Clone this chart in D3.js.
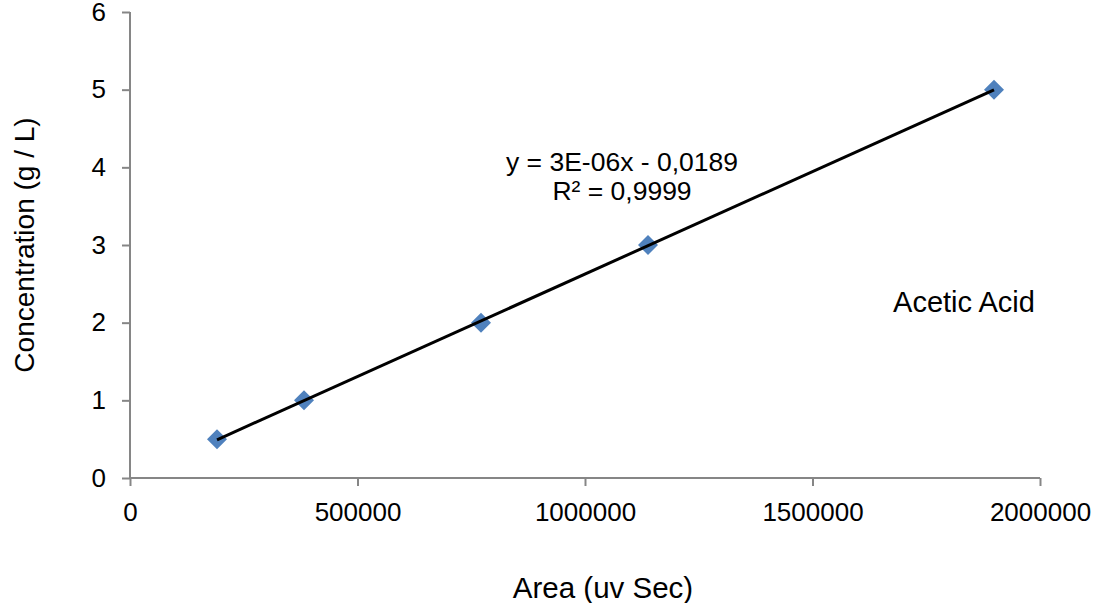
<!DOCTYPE html>
<html>
<head>
<meta charset="utf-8">
<script src="https://cdn.jsdelivr.net/npm/d3@7"></script>
<style>
  body { margin: 0; background: #fff; }
  text { font-family: "Liberation Sans", Arial, sans-serif; fill: #000; }
</style>
</head>
<body>
<div id="chart"></div>
<script>
// calibration points
const areas = [191200, 382400, 771400, 1138500, 1898900];
const concentrations = [0.5, 1, 2, 3, 5];
const xTicks = [0, 500000, 1000000, 1500000, 2000000];
const yTicks = [0, 1, 2, 3, 4, 5, 6];
const equationLines = ["y = 3E-06x - 0,0189", "R\u00b2 = 0,9999"];
const seriesName = "Acetic Acid";

const width = 1094, height = 603;
const margin = { left: 130, right: 54, top: 12, bottom: 125 };

const svg = d3.select("#chart").append("svg")
  .attr("width", width)
  .attr("height", height);

const x = d3.scaleLinear().domain([0, 2000000]).range([margin.left, width - margin.right]);
const y = d3.scaleLinear().domain([0, 6]).range([height - margin.bottom, margin.top]);

const axisColor = "#868686";

// x axis
const gx = svg.append("g")
  .attr("transform", "translate(0," + y(0) + ")")
  .call(d3.axisBottom(x).tickValues(xTicks).tickSize(8).tickPadding(17).tickFormat(d3.format("d")));
gx.selectAll("text").attr("font-size", 26).attr("font-family", "Liberation Sans, Arial, sans-serif");

// y axis
const gy = svg.append("g")
  .attr("transform", "translate(" + x(0) + ",0)")
  .call(d3.axisLeft(y).tickValues(yTicks).tickSize(8).tickPadding(16).tickFormat(d3.format("d")));
gy.selectAll("text").attr("font-size", 26).attr("font-family", "Liberation Sans, Arial, sans-serif");

[gx, gy].forEach(g => {
  g.selectAll("path, line").attr("stroke", axisColor).attr("stroke-width", 2);
  g.select(".domain").attr("d", null);
});
// plain axis lines (no end caps)
svg.append("line").attr("x1", x(0)).attr("x2", x(2000000)).attr("y1", y(0)).attr("y2", y(0))
  .attr("stroke", axisColor).attr("stroke-width", 2);
svg.append("line").attr("x1", x(0)).attr("x2", x(0)).attr("y1", y(0)).attr("y2", y(6))
  .attr("stroke", axisColor).attr("stroke-width", 2);

// markers
const points = areas.map((a, i) => ({ a: a, c: concentrations[i] }));
svg.append("g").selectAll("path")
  .data(points)
  .enter().append("path")
  .attr("d", d3.symbol().type(d3.symbolSquare).size(200))
  .attr("transform", d => "translate(" + x(d.a) + "," + y(d.c) + ") rotate(45)")
  .attr("fill", "#4F81BD");

// least squares trendline over the points
const mx = d3.mean(areas), my = d3.mean(concentrations);
const slope = d3.sum(points, d => (d.a - mx) * (d.c - my)) / d3.sum(points, d => (d.a - mx) * (d.a - mx));
const intercept = my - slope * mx;
const ends = d3.extent(areas);
svg.append("line")
  .attr("x1", x(ends[0])).attr("y1", y(slope * ends[0] + intercept))
  .attr("x2", x(ends[1])).attr("y2", y(slope * ends[1] + intercept))
  .attr("stroke", "#000").attr("stroke-width", 3);

// equation label
svg.append("g").selectAll("text")
  .data(equationLines)
  .enter().append("text")
  .attr("x", 622)
  .attr("y", (d, i) => 171 + i * 29)
  .attr("text-anchor", "middle")
  .attr("font-size", 26.5)
  .text(d => d);

svg.append("text")
  .attr("x", 964).attr("y", 312)
  .attr("text-anchor", "middle")
  .attr("font-size", 29)
  .text(seriesName);

// axis titles
svg.append("text")
  .attr("x", 603).attr("y", 598)
  .attr("text-anchor", "middle")
  .attr("font-size", 29.5)
  .text("Area (uv Sec)");

svg.append("text")
  .attr("transform", "translate(34,245) rotate(-90)")
  .attr("text-anchor", "middle")
  .attr("font-size", 28)
  .text("Concentration (g / L)");
</script>
</body>
</html>
